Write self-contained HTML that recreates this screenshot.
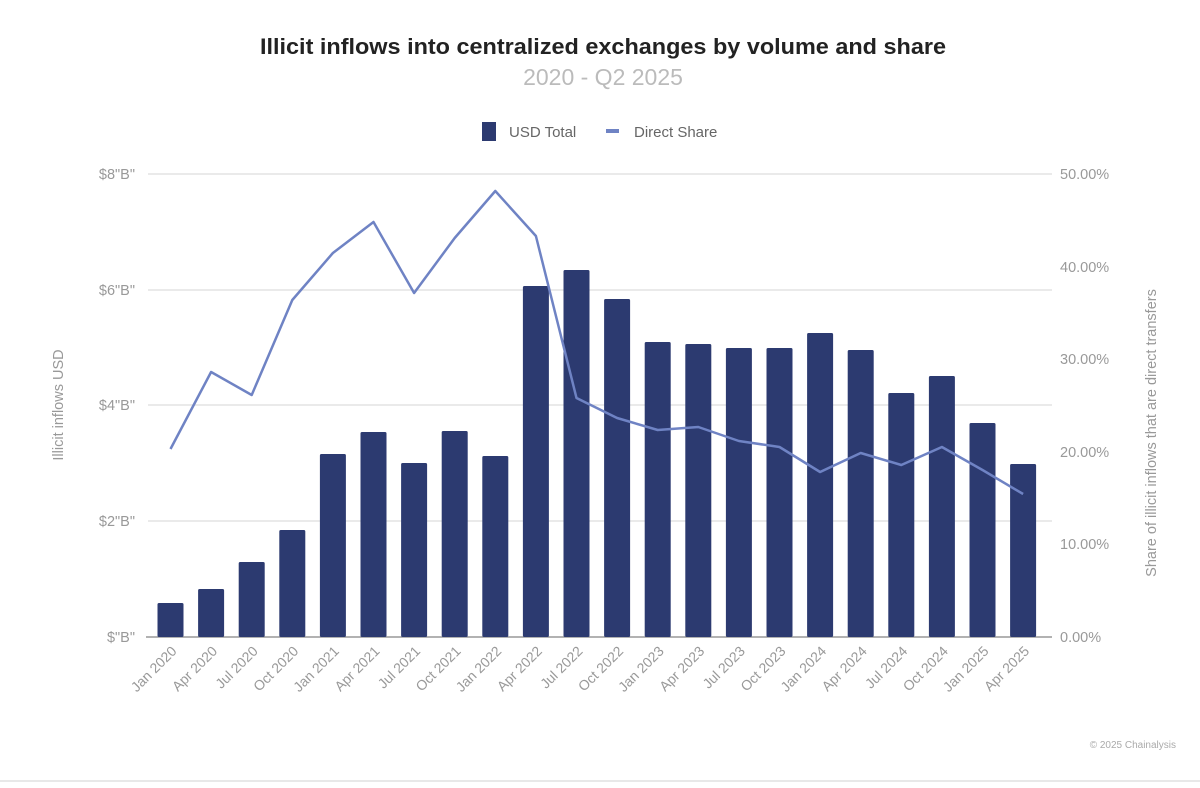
<!DOCTYPE html>
<html><head><meta charset="utf-8"><style>
body{margin:0;background:#fff;}
svg{display:block;font-family:"Liberation Sans",sans-serif;}
</style></head><body>
<svg width="1200" height="788" viewBox="0 0 1200 788">
<rect width="1200" height="788" fill="#fff"/>
<line x1="0" y1="781" x2="1200" y2="781" stroke="#e8e8e8" stroke-width="2"/>
<text x="603" y="54" text-anchor="middle" font-size="22" font-weight="bold" fill="#222" textLength="686" lengthAdjust="spacingAndGlyphs">Illicit inflows into centralized exchanges by volume and share</text>
<text x="603" y="85" text-anchor="middle" font-size="23" fill="#bbb">2020 - Q2 2025</text>
<rect x="482" y="122" width="14" height="19" fill="#2c3a70"/>
<text x="509" y="137" font-size="15" fill="#666">USD Total</text>
<rect x="606" y="129" width="13" height="4" fill="#6f83c4"/>
<text x="634" y="137" font-size="15" fill="#666">Direct Share</text>
<g stroke="#e3e3e3" stroke-width="1.5">
<line x1="148" y1="174" x2="1052" y2="174"/>
<line x1="148" y1="290" x2="1052" y2="290"/>
<line x1="148" y1="405" x2="1052" y2="405"/>
<line x1="148" y1="521" x2="1052" y2="521"/>
</g>
<line x1="146" y1="637" x2="1052" y2="637" stroke="#999" stroke-width="1.5"/>
<g font-size="14.5" fill="#999" text-anchor="end">
<text x="135" y="179">$8"B"</text><text x="135" y="295">$6"B"</text><text x="135" y="410">$4"B"</text><text x="135" y="526">$2"B"</text><text x="135" y="642">$"B"</text>
</g>
<g font-size="14.5" fill="#999" text-anchor="start">
<text x="1060" y="179">50.00%</text><text x="1060" y="272">40.00%</text><text x="1060" y="364">30.00%</text><text x="1060" y="457">20.00%</text><text x="1060" y="549">10.00%</text><text x="1060" y="642">0.00%</text>
</g>
<text transform="translate(63,405) rotate(-90)" text-anchor="middle" font-size="14.5" fill="#999">Illicit inflows USD</text>
<text transform="translate(1156,433) rotate(-90)" text-anchor="middle" font-size="14.5" fill="#999">Share of illicit inflows that are direct transfers</text>
<g fill="#2c3a70" id="bars"></g>
<polyline id="ln" fill="none" stroke="#6f83c4" stroke-width="2.5" stroke-linejoin="round"/>
<g id="labs" font-size="14" fill="#999" text-anchor="end"></g>
<text x="1176" y="748" text-anchor="end" font-size="10" fill="#aaa">© 2025 Chainalysis</text>
<script>
var tops=[603,589,562,530,454,432,463,431,456,286,270,299,342,344,348,348,333,350,393,376,423,464];
var line=[449,372,395,300,253,222,293,238,191,236,398,418,430,427,441,447,472,453,465,447,470,494];
var labs=["Jan 2020","Apr 2020","Jul 2020","Oct 2020","Jan 2021","Apr 2021","Jul 2021","Oct 2021","Jan 2022","Apr 2022","Jul 2022","Oct 2022","Jan 2023","Apr 2023","Jul 2023","Oct 2023","Jan 2024","Apr 2024","Jul 2024","Oct 2024","Jan 2025","Apr 2025"];
var ns="http://www.w3.org/2000/svg",b=document.getElementById("bars"),L=document.getElementById("labs"),pts=[];
for(var i=0;i<22;i++){var cx=170.5+i*40.6;
var r=document.createElementNS(ns,"rect");r.setAttribute("x",cx-13);r.setAttribute("y",tops[i]);r.setAttribute("width",26);r.setAttribute("height",637-tops[i]);r.setAttribute("rx",1.5);b.appendChild(r);
pts.push(cx+","+line[i]);
var t=document.createElementNS(ns,"text");t.setAttribute("transform","translate("+(cx+7)+",652) rotate(-45)");t.textContent=labs[i];L.appendChild(t);}
document.getElementById("ln").setAttribute("points",pts.join(" "));
</script>
</svg>
</body></html>
